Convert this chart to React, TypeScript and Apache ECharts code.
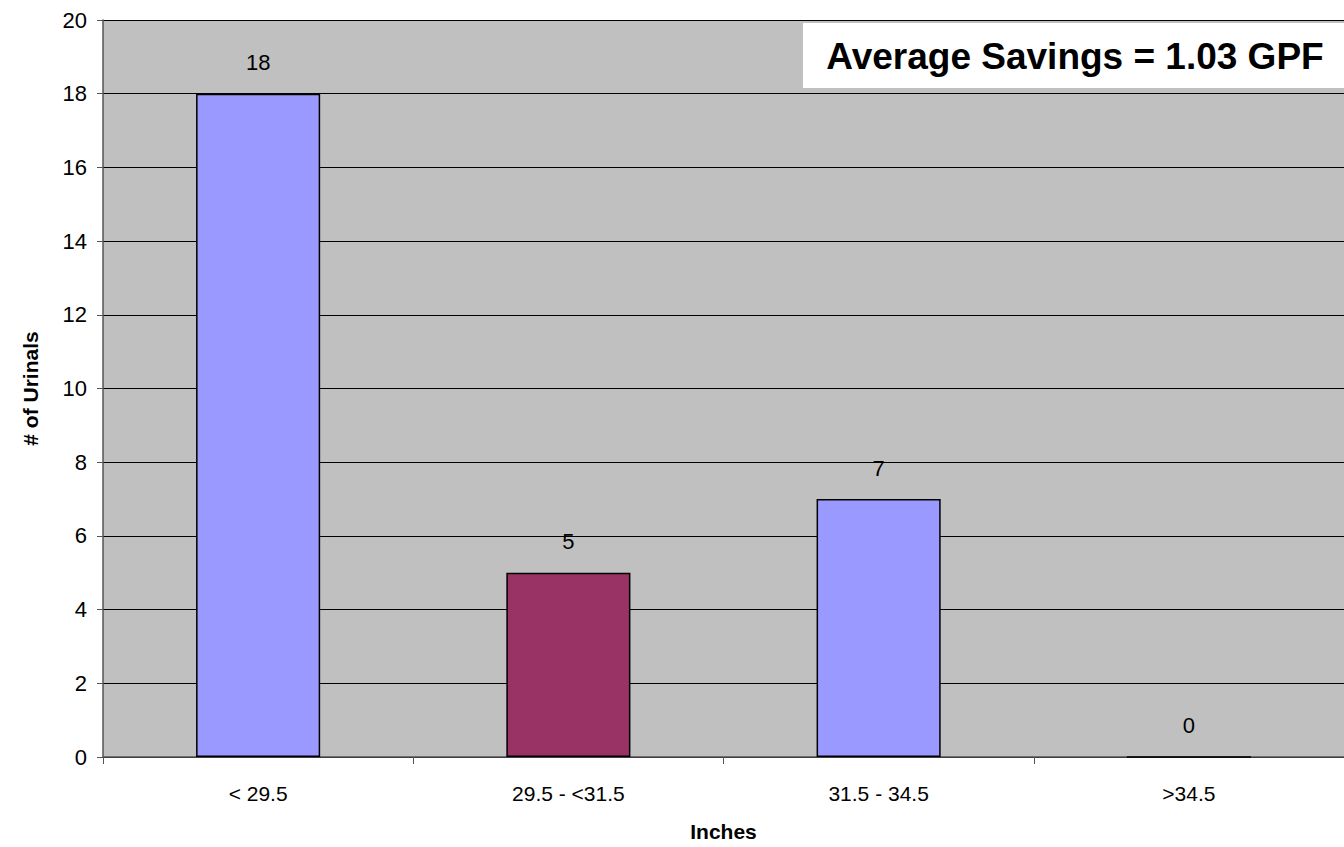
import React, { useEffect, useRef } from "react";
import * as echarts from "echarts";

const categories = ["< 29.5", "29.5 - <31.5", "31.5 - 34.5", ">34.5"];
const urinalCounts = [18, 5, 7, 0];
const barColors = ["#9999FF", "#993366", "#9999FF", "#9999FF"];
const yTicks = { min: 0, max: 20, interval: 2 };
const noteText = "Average Savings = 1.03 GPF";

const FONT = "'Liberation Sans', Arial, sans-serif";

export default function App() {
  const ref = useRef<HTMLDivElement>(null);

  useEffect(() => {
    document.body.style.margin = "0";
    document.documentElement.style.overflow = "hidden";
    if (!ref.current) return;
    const chart = echarts.init(ref.current, undefined, { renderer: "svg" });
    chart.setOption({
      animation: false,
      backgroundColor: "#FFFFFF",
      grid: {
        left: 103,
        top: 20,
        width: 1244,
        height: 744,
        show: true,
        backgroundColor: "#C0C0C0",
        borderWidth: 0,
      },
      xAxis: {
        type: "category",
        data: categories,
        name: "Inches",
        nameLocation: "middle",
        nameGap: 64,
        nameTextStyle: { fontFamily: FONT, fontSize: 21, fontWeight: "bold", color: "#000" },
        axisLine: { lineStyle: { color: "#555", width: 1.5 } },
        axisTick: { show: true, length: 7, lineStyle: { color: "#555" }, alignWithLabel: false },
        axisLabel: { fontFamily: FONT, fontSize: 21, color: "#000", margin: 26 },
        splitLine: { show: false },
      },
      yAxis: {
        type: "value",
        min: yTicks.min,
        max: yTicks.max,
        interval: yTicks.interval,
        name: "# of Urinals",
        nameLocation: "middle",
        nameGap: 62,
        nameRotate: 90,
        nameTextStyle: { fontFamily: FONT, fontSize: 21, fontWeight: "bold", color: "#000" },
        axisLine: { show: true, lineStyle: { color: "#555", width: 1.5 } },
        axisTick: { show: true, length: 6, lineStyle: { color: "#555" } },
        axisLabel: { fontFamily: FONT, fontSize: 22, color: "#000", margin: 16 },
        splitLine: { show: true, lineStyle: { color: "#000", width: 1 } },
      },
      series: [
        {
          type: "bar",
          barWidth: "40%",
          data: urinalCounts.map((v, i) => ({
            value: v,
            itemStyle: { color: barColors[i], borderColor: "#000", borderWidth: 1.5 },
          })),
          label: {
            show: true,
            position: "top",
            distance: 20,
            fontFamily: FONT,
            fontSize: 22,
            color: "#000",
          },
        },
      ],
      graphic: [
        {
          type: "rect",
          shape: { x: 803, y: 23, width: 541, height: 65 },
          style: { fill: "#FFFFFF" },
          z: 10,
        },
        {
          type: "text",
          x: 1075,
          y: 56,
          z: 11,
          style: {
            text: noteText,
            fontFamily: FONT,
            fontSize: 37,
            fontWeight: "bold",
            fill: "#000",
            align: "center",
            verticalAlign: "middle",
          },
        },
      ],
    });
    return () => chart.dispose();
  }, []);

  return <div ref={ref} style={{ width: 1344, height: 847, overflow: "hidden" }} />;
}
